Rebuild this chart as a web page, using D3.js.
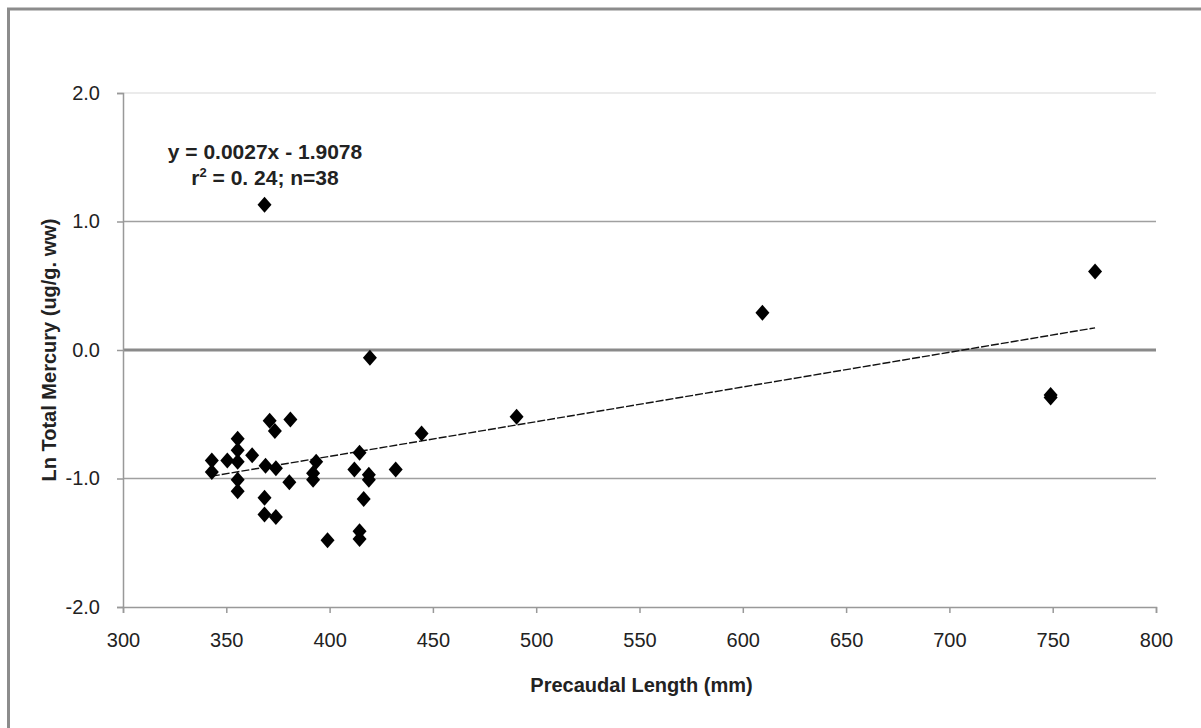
<!DOCTYPE html>
<html>
<head>
<meta charset="utf-8">
<script src="https://cdn.jsdelivr.net/npm/d3@7"></script>
<style>
  body { margin: 0; background: #fff; }
  svg { display: block; }
  text { font-family: "Liberation Sans", Arial, sans-serif; fill: #222; }
</style>
</head>
<body>
<svg id="chart" width="1201" height="728"></svg>
<script>

// precaudal length (mm)
var lengths = [343, 343, 350.5, 355.5, 355.5, 355.5, 355.5, 355.5, 362.5, 369,
  368.5, 368.5, 371, 373.5, 374, 374, 381, 380.5, 393.5, 392,
  392, 412, 414.5, 419, 419, 432, 416.5, 414.5, 414.5, 399,
  419.5, 368.5, 444.5, 490.5, 609.5, 749, 749, 770.5];

// ln total mercury (ug/g ww)
var mercury = [-0.86, -0.95, -0.86, -0.69, -0.78, -0.87, -1.01, -1.10, -0.82, -0.90,
  -1.15, -1.28, -0.55, -0.63, -0.92, -1.30, -0.54, -1.03, -0.87, -0.96,
  -1.01, -0.93, -0.80, -0.97, -1.01, -0.93, -1.16, -1.41, -1.47, -1.48,
  -0.06, 1.13, -0.65, -0.52, 0.29, -0.35, -0.37, 0.61];

var xTicks = [300, 350, 400, 450, 500, 550, 600, 650, 700, 750, 800];
var yTicks = [-2, -1, 0, 1, 2];

var slope = 0.0027, intercept = -1.9078;
var fitLabel = "y = 0.0027x - 1.9078";

var svg = d3.select("#chart");

var plotLeft = 123, plotRight = 1156, plotTop = 93, plotBottom = 607;

var x = d3.scaleLinear().domain([300, 800]).range([plotLeft, plotRight]);
var y = d3.scaleLinear().domain([-2, 2]).range([plotBottom, plotTop]);

// outer chart frame (runs off the right and bottom edges)
svg.append("rect")
  .attr("x", 8.5).attr("y", 9)
  .attr("width", 1300).attr("height", 900)
  .attr("fill", "none")
  .attr("stroke", "#8c8c8c")
  .attr("stroke-width", 3);

// horizontal gridlines
svg.append("g")
  .selectAll("line")
  .data(yTicks.filter(function(d) { return d > -2; }))
  .join("line")
    .attr("x1", plotLeft).attr("x2", plotRight)
    .attr("y1", function(d) { return y(d); })
    .attr("y2", function(d) { return y(d); })
    .attr("stroke", function(d) { return d === 2 ? "#e4e4e4" : (d === 0 ? "#8a8a8a" : "#a0a0a0"); })
    .attr("stroke-width", function(d) { return d === 0 ? 3 : 1.5; });

// y axis
var yAxis = svg.append("g")
  .attr("transform", "translate(" + plotLeft + ",0)")
  .call(d3.axisLeft(y).tickValues(yTicks).tickSize(6).tickPadding(17)
    .tickFormat(function(d) { return d3.format(".1f")(d).replace("\u2212", "-"); }));
yAxis.select(".domain").attr("stroke", "#999").attr("stroke-width", 1.5);
yAxis.selectAll(".tick line").attr("stroke", "#999").attr("stroke-width", 1.5);
yAxis.selectAll(".tick text")
  .attr("font-size", 20)
  .attr("fill", "#222")
  .style("font-family", "'Liberation Sans', Arial, sans-serif");

// x axis
var xAxis = svg.append("g")
  .attr("transform", "translate(0," + plotBottom + ")")
  .call(d3.axisBottom(x).tickValues(xTicks).tickFormat(d3.format("d")).tickSize(6).tickPadding(20));
xAxis.select(".domain").attr("stroke", "#999").attr("stroke-width", 1.5);
xAxis.selectAll(".tick line").attr("stroke", "#999").attr("stroke-width", 1.5);
xAxis.selectAll(".tick text")
  .attr("font-size", 20)
  .attr("fill", "#222")
  .style("font-family", "'Liberation Sans', Arial, sans-serif");

// trend line over the data range
var xMin = d3.min(lengths), xMax = d3.max(lengths);
svg.append("line")
  .attr("x1", x(xMin)).attr("y1", y(slope * xMin + intercept))
  .attr("x2", x(xMax)).attr("y2", y(slope * xMax + intercept))
  .attr("stroke", "#111")
  .attr("stroke-width", 1.4)
  .attr("stroke-dasharray", "8,2");

// diamond markers
var points = lengths.map(function(d, i) { return [d, mercury[i]]; });
svg.append("g")
  .selectAll("path")
  .data(points)
  .join("path")
    .attr("transform", function(d) { return "translate(" + x(d[0]) + "," + y(d[1]) + ")"; })
    .attr("d", "M0,-8L7,0L0,8L-7,0Z")
    .attr("fill", "#000");

// regression annotation
var note = svg.append("text")
  .attr("text-anchor", "middle")
  .attr("font-weight", "bold")
  .attr("font-size", 21);
note.append("tspan").attr("x", 265).attr("y", 159).text(fitLabel);
var l2 = note.append("tspan").attr("x", 265).attr("y", 185);
l2.append("tspan").text("r");
l2.append("tspan").attr("dy", -8).attr("font-size", 13).text("2");
l2.append("tspan").attr("dy", 8).text(" = 0. 24; n=38");

// axis titles
svg.append("text")
  .attr("x", (plotLeft + plotRight) / 2 + 2)
  .attr("y", 692)
  .attr("text-anchor", "middle")
  .attr("font-weight", "bold")
  .attr("font-size", 20)
  .text("Precaudal Length (mm)");

svg.append("text")
  .attr("transform", "translate(56," + (plotTop + plotBottom) / 2 + ") rotate(-90)")
  .attr("text-anchor", "middle")
  .attr("font-weight", "bold")
  .attr("font-size", 20)
  .text("Ln Total Mercury (ug/g. ww)");

</script>
</body>
</html>
